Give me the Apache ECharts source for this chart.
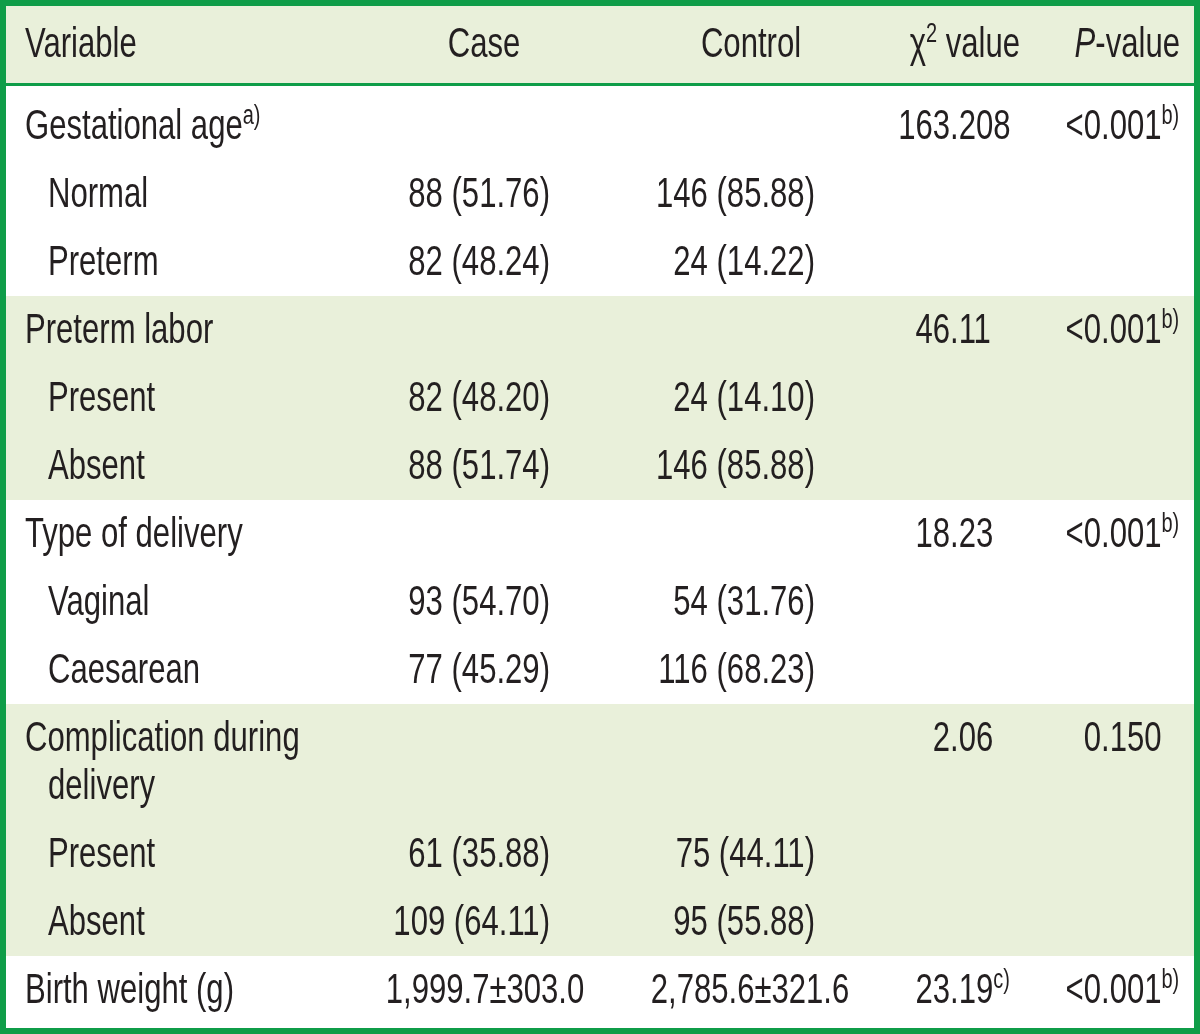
<!DOCTYPE html>
<html><head><meta charset="utf-8">
<script src="https://cdn.jsdelivr.net/npm/echarts@6/dist/echarts.min.js"></script>
<style>html,body{margin:0;padding:0;background:#fff}#c{width:1200px;height:1034px}</style>
</head><body><div id="c"></div>
<script>
// ---- table content ----
const headers = ['Variable', 'Case', 'Control', 'χ2 value', 'P-value'];
const variables = ['Gestational age', 'Normal', 'Preterm', 'Preterm labor', 'Present', 'Absent',
  'Type of delivery', 'Vaginal', 'Caesarean', 'Complication during\ndelivery', 'Present', 'Absent', 'Birth weight (g)'];
const subItem = [false, true, true, false, true, true, false, true, true, false, true, true, false];
const variableNotes = ['a)', '', '', '', '', '', '', '', '', '', '', '', ''];
const caseValues = ['', '88 (51.76)', '82 (48.24)', '', '82 (48.20)', '88 (51.74)', '', '93 (54.70)', '77 (45.29)',
  '', '61 (35.88)', '109 (64.11)', '1,999.7±303.0'];
const controlValues = ['', '146 (85.88)', '24 (14.22)', '', '24 (14.10)', '146 (85.88)', '', '54 (31.76)', '116 (68.23)',
  '', '75 (44.11)', '95 (55.88)', '2,785.6±321.6'];
const chiValues = ['163.208', '', '', '46.11', '', '', '18.23', '', '', '2.06', '', '', '23.19'];
const chiNotes = ['', '', '', '', '', '', '', '', '', '', '', '', 'c)'];
const pValues = ['<0.001', '', '', '<0.001', '', '', '<0.001', '', '', '0.150', '', '', '<0.001'];
const pNotes = ['b)', '', '', 'b)', '', '', 'b)', '', '', '', '', '', 'b)'];
const groupSizes = [3, 3, 3, 3, 1];

// ---- style ----
const FONT = '"Liberation Sans", Arial, sans-serif';
const FS = 42, SFS = 27, SX = 0.74;
const TEXT = '#231f20', GREEN = '#0f9d48', BAND = '#e9f0da';
const MID = 12; // baseline - middle offset

const chart = echarts.init(document.getElementById('c'), null, {renderer: 'canvas'});
const mctx = document.createElement('canvas').getContext('2d');
mctx.font = FS + 'px ' + FONT;
function measure(s) { return mctx.measureText(s).width * SX; }

const rich = {
  n: {fontSize: FS, fontFamily: FONT, fill: TEXT, lineHeight: 48},
  i: {fontSize: FS, fontFamily: FONT, fill: TEXT, lineHeight: 48, fontStyle: 'italic'},
  s: {fontSize: SFS, fontFamily: FONT, fill: TEXT, lineHeight: 42, verticalAlign: 'top'}
};
function rt(main, note) { return '{n|' + main + '}' + (note ? '{s|' + note + '}' : ''); }
function txt(x, baseline, text, align) {
  return {type: 'text', x: x, y: baseline - MID, scaleX: SX, silent: true, z: 10,
    style: {text: text, rich: rich, fontSize: FS, fontFamily: FONT, fill: TEXT,
      align: align, textAlign: align, verticalAlign: 'middle', textVerticalAlign: 'middle'}};
}
function decimalAt(xDot, baseline, value, note) {
  const ip = value.split('.')[0];
  return txt(xDot - measure(ip), baseline, rt(value, note), 'left');
}

const els = [];
// header
els.push({type: 'rect', shape: {x: 0, y: 0, width: 1200, height: 84}, style: {fill: BAND}, silent: true});
els.push({type: 'rect', shape: {x: 0, y: 83, width: 1200, height: 3}, style: {fill: GREEN}, silent: true, z: 5});
const HB = 57;
els.push(txt(25, HB, rt(headers[0]), 'left'));
els.push(txt(484, HB, rt(headers[1]), 'center'));
els.push(txt(751, HB, rt(headers[2]), 'center'));
els.push(txt(1020, HB, '{n|χ}{s|2}{n| value}', 'right'));
els.push(txt(1180, HB, '{i|P}{n|-value}', 'right'));

// body
let curTop = 92, r = 0;
groupSizes.forEach((gs, g) => {
  const gTop = (g === 0) ? 86 : curTop;
  let bl = curTop + 47;
  const rowsY = [];
  for (let k = 0; k < gs; k++) {
    const lines = variables[r + k].split('\n');
    rowsY.push(bl);
    bl += 48 * (lines.length - 1) + 68;
  }
  const gBottom = bl - 68 + 21;
  if (g % 2 === 1) {
    els.push({type: 'rect', shape: {x: 0, y: gTop, width: 1200, height: gBottom - gTop}, style: {fill: BAND}, silent: true});
  }
  for (let k = 0; k < gs; k++, r++) {
    const y = rowsY[k];
    const lines = variables[r].split('\n');
    const x0 = subItem[r] ? 48 : 25;
    lines.forEach((ln, li) => {
      els.push(txt(li === 0 ? x0 : x0 + 23, y + li * 48, rt(ln, li === lines.length - 1 ? variableNotes[r] : ''), 'left'));
    });
    if (caseValues[r]) {
      if (caseValues[r].indexOf('±') >= 0) els.push(txt(485, y, rt(caseValues[r]), 'center'));
      else els.push(txt(550, y, rt(caseValues[r]), 'right'));
    }
    if (controlValues[r]) {
      if (controlValues[r].indexOf('±') >= 0) els.push(txt(750, y, rt(controlValues[r]), 'center'));
      else els.push(txt(815, y, rt(controlValues[r]), 'right'));
    }
    if (chiValues[r]) els.push(decimalAt(950, y, chiValues[r], chiNotes[r]));
    if (pValues[r]) els.push(decimalAt(1101, y, pValues[r], pNotes[r]));
  }
  curTop = gBottom;
});

// outer border
els.push({type: 'rect', shape: {x: 3, y: 3, width: 1194, height: 1028}, style: {fill: 'none', stroke: GREEN, lineWidth: 6}, silent: true, z: 20});

chart.setOption({animation: false, backgroundColor: '#fff', graphic: {elements: els}});
</script></body></html>
